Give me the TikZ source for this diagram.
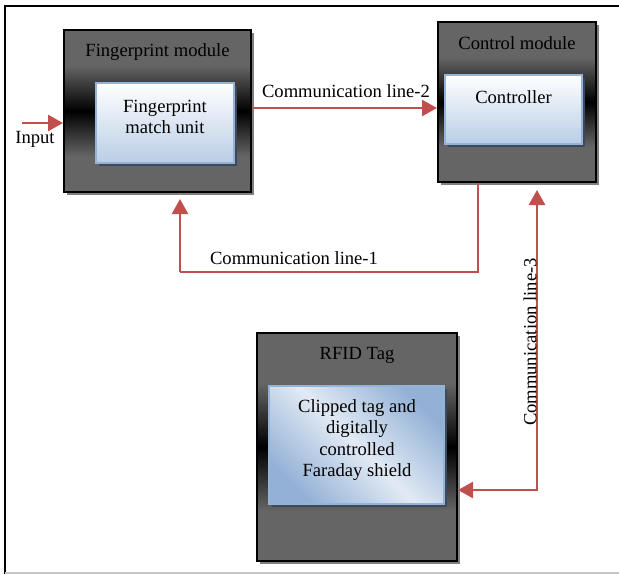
\documentclass[tikz,border=0pt]{standalone}
\usepackage{fontspec}
\setmainfont{Liberation Serif}
\usetikzlibrary{shadows,arrows.meta}
\definecolor{modgray}{HTML}{656565}
\definecolor{lineRed}{HTML}{C0504D}
\definecolor{innerBorder}{HTML}{95B3D7}
\definecolor{innerBot}{HTML}{B9CDE5}
\definecolor{innerShadow}{HTML}{3B4A5E}
\definecolor{modShadow}{HTML}{7F7F7F}
\definecolor{rfidDark}{HTML}{93B1D6}
\definecolor{rfidLight}{HTML}{E2EAF4}
\pgfdeclareverticalshading{modshade}{100bp}{color(0bp)=(modgray); color(36bp)=(modgray); color(50bp)=(black); color(64bp)=(modgray); color(100bp)=(modgray)}
\begin{document}
\begin{tikzpicture}[x=1pt,y=-1pt,
  font=\fontsize{18.6}{21.3}\selectfont,
  module/.style={draw=black, line width=2pt, shading=modshade, inner sep=0pt,
    drop shadow={shadow xshift=3pt, shadow yshift=-3pt, fill=modShadow, opacity=1}},
  unit/.style={draw=innerBorder, line width=2pt, top color=white, bottom color=innerBot, inner sep=0pt,
    drop shadow={shadow xshift=3pt, shadow yshift=-3pt, fill=innerShadow, opacity=1}},
  txt/.style={inner sep=0pt, align=center, text=black},
  redline/.style={draw=lineRed, line width=2.5pt},
  thinred/.style={draw=lineRed, line width=1.2pt},
  tip/.style={-{Triangle[length=15pt,width=16pt]}},
  dtip/.style={{Triangle[length=15pt,width=16pt]}-{Triangle[length=15pt,width=16pt]}}
]
\useasboundingbox (0,0) rectangle (619,574);
\fill[white] (0,0) rectangle (619,574);
% frame
\draw[black, line width=2pt] (5,574) -- (5,6) -- (619,6);
\draw[gray!45, line width=1.5pt] (5,573) -- (619,573);

% modules
\node[module, minimum width=187pt, minimum height=162pt] (fp) at (157.5,111) {};
\node[unit, minimum width=138pt, minimum height=80pt] (fpu) at (165,123) {};
\node[txt] (fpt) at (157.5,52) {Fingerprint module};
\node[txt] (fput) at (165,117) {Fingerprint\\match unit};

\node[module, minimum width=158pt, minimum height=160pt] (ctrl) at (517,102) {};
\node[unit, minimum width=137pt, minimum height=69pt] (ctrlu) at (513.5,109.5) {};
\node[txt] (ctrlt) at (517,43) {Control module};
\node[txt] (ctrlut) at (513.5,97) {Controller};

\node[module, minimum width=200pt, minimum height=228pt] (rfid) at (357,447) {};
\node[unit, minimum width=175pt, minimum height=118pt,
      top color=rfidDark, bottom color=rfidDark, middle color=rfidLight, shading angle=-45] (rfidu) at (356.5,445) {};
\node[txt] (rfidt) at (357,355) {RFID Tag};
\node[txt] (rfidut) at (357,440) {Clipped tag and\\digitally\\controlled\\Faraday shield};

% input
\coordinate (inp) at (22,123);
\draw[redline, tip] (inp) -- (inp -| fp.west);
\node[txt] (inplbl) at (35,139) {Input};

% communication line-2
\coordinate (l2s) at (253,108);
\draw[redline, tip] (l2s) -- (l2s -| ctrl.west);
\node[txt] (l2lbl) at (346,91) {Communication line-2};

% communication line-1
\coordinate (l1a) at (478,272);
\coordinate (l1b) at (180,272);
\coordinate (l1end) at (180,199);
\draw[thinred] (l1a |- ctrl.south) -- (l1a) -- (l1b);
\draw[redline, tip] (l1b) -- (l1end);
\node[txt] (l1lbl) at (294,258) {Communication line-1};

% communication line-3
\coordinate (l3c) at (537,490);
\coordinate (l3top) at (537,190);
\draw[redline, dtip] (l3top) -- (l3c) -- (l3c -| rfid.east);
\node[txt, rotate=90] (l3lbl) at (530,342) {Communication line-3};
\end{tikzpicture}
\end{document}
